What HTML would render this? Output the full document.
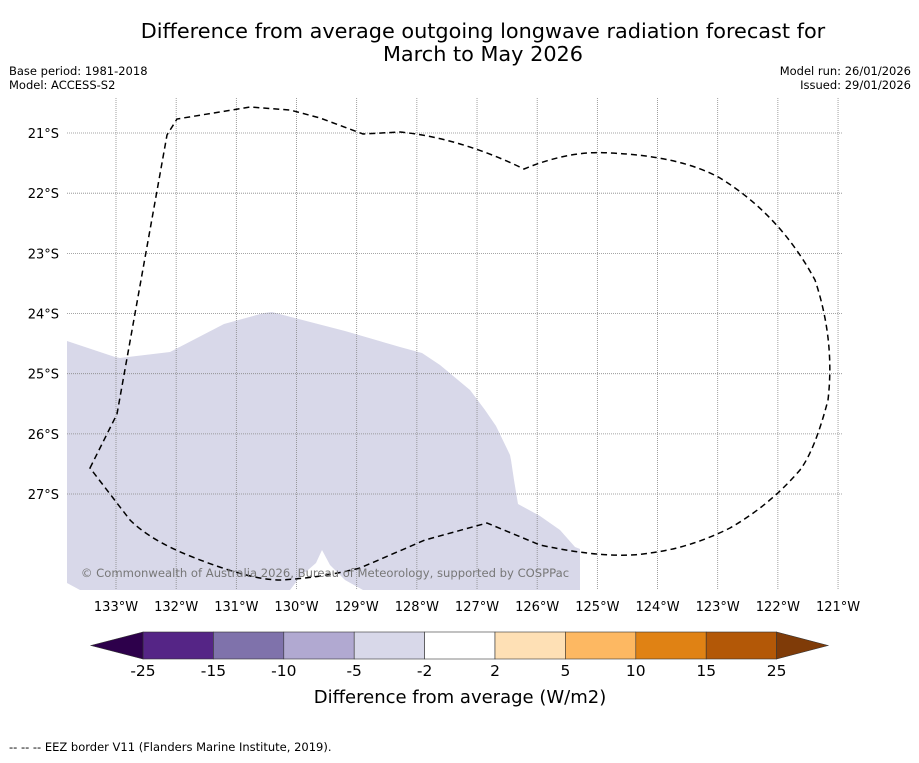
<!DOCTYPE html>
<html><head><meta charset="utf-8"><style>
body{margin:0;background:#fff;width:919px;height:758px;overflow:hidden;font-family:"Liberation Sans","DejaVu Sans",sans-serif}
</style></head><body>
<svg width="919" height="758" xmlns="http://www.w3.org/2000/svg" style="font-family:'DejaVu Sans','Liberation Sans',sans-serif">
<text x="483" y="38" font-size="20.8" text-anchor="middle">Difference from average outgoing longwave radiation forecast for</text>
<text x="483" y="61" font-size="20.8" text-anchor="middle">March to May 2026</text>
<text x="9" y="75" font-size="11.5">Base period: 1981-2018</text>
<text x="9" y="89" font-size="11.5">Model: ACCESS-S2</text>
<text x="911" y="75" font-size="11.5" text-anchor="end">Model run: 26/01/2026</text>
<text x="911" y="89" font-size="11.5" text-anchor="end">Issued: 29/01/2026</text>
<g id="map">
<polygon fill="#d8d8e9" points="67,341 115,357 120,358 170,352 224,324 264,313 272,312 287,316 345,331 400,347 422,353 440,365 470,390 485,410 496,426 510,455 511,460 514,480 518,504 540,516 560,530 575,547 580,549 580,590 363,590 345,580 330,565 322,550 316,563 300,577 290,590 80,590 67,583"/>
<g id="grid"></g>
<path fill="none" stroke="#000" stroke-width="1.5" stroke-dasharray="6,4" d="M90,468 L117,414 L167,135 L177,119 L250,107 L290,110 L320,118 L363,134 L400,132 Q460,138 524,169 Q570,150 610,153 Q680,156 720,178 Q780,215 815,280 Q835,340 828,400 Q815,450 800,470 Q770,505 730,528 Q690,548 650,553 Q610,560 540,545 L487,523 L425,540 L360,568 Q320,578 280,580 Q250,580 190,556 Q150,540 130,520 Z"/>
<text x="325" y="577" font-size="11.6" fill="#777" text-anchor="middle">© Commonwealth of Australia 2026, Bureau of Meteorology, supported by COSPPac</text>
</g>
<g id="cbar"></g>
<text x="460" y="703" font-size="18" text-anchor="middle">Difference from average (W/m2)</text>
<text x="9" y="751" font-size="11.5">--  --  -- EEZ border V11 (Flanders Marine Institute, 2019).</text>
</svg>
<script>
const lonTicks=[133,132,131,130,129,128,127,126,125,124,123,122,121];
const latTicks=[21,22,23,24,25,26,27];
const cbBounds=[-25,-15,-10,-5,-2,2,5,10,15,25];
const cbColors=["#552586","#7f72ab","#b1a9d1","#d8d8e9","#ffffff","#fee0b5","#fdb862","#e08214","#b35807"];
const cbUnder="#2d004b", cbOver="#7f3b08";
const NS="http://www.w3.org/2000/svg";
const xLon=l=>116+(133-l)*60.17;
const yLat=l=>133+(l-21)*60.17;
const g=document.getElementById('grid'), svg=document.querySelector('svg');
function mk(t,a,p){const e=document.createElementNS(NS,t);for(const k in a)e.setAttribute(k,a[k]);(p||svg).appendChild(e);return e;}
lonTicks.forEach(l=>{const x=xLon(l);
const ln=mk('line',{x1:x,x2:x,y1:98,y2:590,stroke:'#888','stroke-width':0.8,'stroke-dasharray':'1,1'},g);


const t=mk('text',{x:x,y:611,'font-size':13,'text-anchor':'middle'});t.textContent=l+'°W';

});
latTicks.forEach(l=>{const y=yLat(l);
const ln=mk('line',{x1:67,x2:843,y1:y,y2:y,stroke:'#888','stroke-width':0.8,'stroke-dasharray':'1,1'},g);


const t=mk('text',{x:59,y:y+5,'font-size':13,'text-anchor':'end'});t.textContent=l+'°S';

});
const cb=document.getElementById('cbar');const x0=143,w=70.4,y0=632,h=27;
cbColors.forEach((c,i)=>{const r=mk('rect',{x:x0+i*w,y:y0,width:w,height:h,fill:c,stroke:'#333','stroke-width':0.6},cb);

});
const xe=x0+cbColors.length*w;
const u=mk('polygon',{points:`${x0},${y0} 91,${y0+h/2} ${x0},${y0+h}`,fill:cbUnder,stroke:'#333','stroke-width':0.6},cb);


const o=mk('polygon',{points:`${xe},${y0} 828,${y0+h/2} ${xe},${y0+h}`,fill:cbOver,stroke:'#333','stroke-width':0.6},cb);


cbBounds.forEach((b,i)=>{const t=mk('text',{x:x0+i*w,y:676,'font-size':15.5,'text-anchor':'middle'},cb);t.textContent=b;

});
</script>
</body></html>
